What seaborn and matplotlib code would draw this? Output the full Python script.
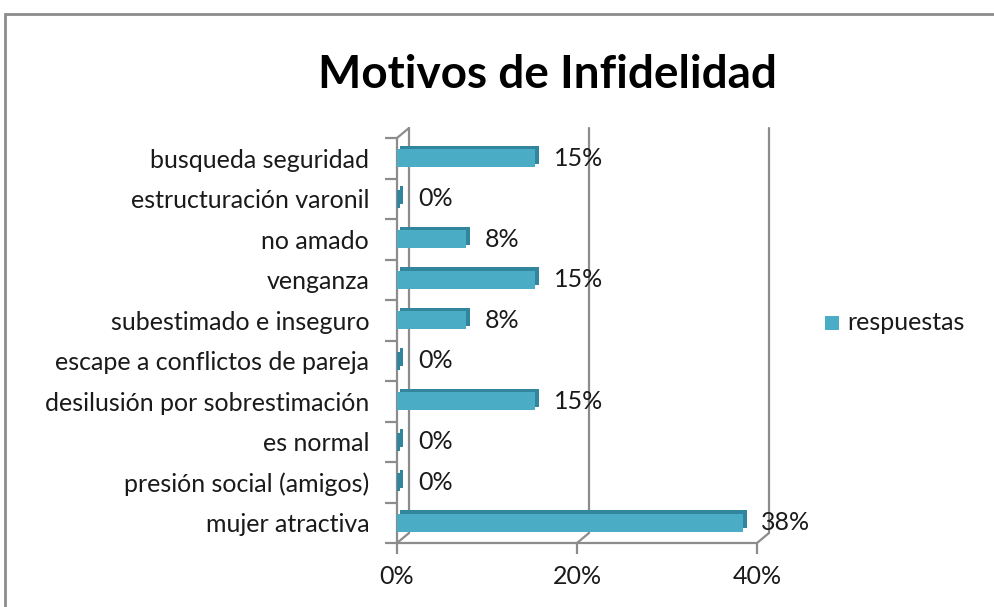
import matplotlib
matplotlib.use("Agg")
import matplotlib.pyplot as plt
import matplotlib.transforms as mtransforms
import matplotlib.patheffects as pe
from matplotlib.patches import Rectangle
import seaborn as sns
import pandas as pd

categories = ["busqueda seguridad", "estructuración varonil", "no amado", "venganza",
              "subestimado e inseguro", "escape a conflictos de pareja",
              "desilusión por sobrestimación", "es normal", "presión social (amigos)",
              "mujer atractiva"]
values = [15.38, 0.0, 7.69, 15.38, 7.69, 0.0, 15.38, 0.0, 0.0, 38.46]
labels = ["15%", "0%", "8%", "15%", "8%", "0%", "15%", "0%", "0%", "38%"]
xticks = [0, 20, 40]
xticklabels = ["0%", "20%", "40%"]
series_name = "respuestas"
title = "Motivos de Infidelidad"

sns.set_theme(style="white")
plt.rcParams["font.family"] = ["Lato", "DejaVu Sans"]

df = pd.DataFrame({"motivo": categories, "pct": values, "serie": series_name})

fig = plt.figure(figsize=(9.95, 6.07), dpi=100)
ax = fig.add_axes([397/995, 1-543/607, (757-397)/995, (543-138)/607])

bar_color = "#4BACC6"
dark = "#31859C"
sns.barplot(data=df, y="motivo", x="pct", hue="serie", order=categories,
            palette=[bar_color], saturation=1, width=0.45, ax=ax, legend=False,
            orient="h", linewidth=0)

for p in ax.patches:
    if p.get_width() < 0.3:
        p.set_width(0.3)
        p.set_facecolor(dark)
    p.set_edgecolor("none")
    p.set_linewidth(0)
    p.set_path_effects([pe.SimplePatchShadow(offset=(2.5, 2.5), shadow_rgbFace=dark, alpha=1.0),
                        pe.Normal()])
    p.set_zorder(3)

ax.set_xlim(0, 40)
ax.set_ylim(9.5, -0.5)
for s in ax.spines.values():
    s.set_visible(False)

grid_c = "#8C8C8C"
lw = 1.6
off = mtransforms.ScaledTranslation(12/100, 10/100, fig.dpi_scale_trans)
back = ax.transData + off

# back plane verticals
for v in xticks:
    ax.plot([v, v], [-0.5, 9.5], color=grid_c, lw=lw, transform=back, clip_on=False, zorder=1)
# diagonal connectors drawn with display coordinates
for v in xticks:
    x0, y0 = ax.transData.transform((v, 9.5))
    ax.plot([x0, x0 + 12], [y0, y0 + 10], color=grid_c, lw=lw, transform=None,
            clip_on=False, zorder=1)
x0, y0 = ax.transData.transform((0, -0.5))
ax.plot([x0, x0 + 12], [y0, y0 + 10], color=grid_c, lw=lw, transform=None, clip_on=False, zorder=1)

# front left wall line and floor line
ax.plot([0, 0], [-0.5, 9.5], color=grid_c, lw=lw, clip_on=False, zorder=2)
ax.plot([0, 40], [9.5, 9.5], color=grid_c, lw=lw, clip_on=False, zorder=2)

fs = 18
# ticks
ax.set_xticks(xticks)
ax.set_xticklabels(xticklabels, fontsize=fs, color="#1a1a1a")
ax.tick_params(axis="x", length=8, width=lw, color=grid_c, direction="out", pad=8, bottom=True)
ax.set_yticks(range(len(categories)))
ax.set_yticklabels(categories, fontsize=fs, color="#1a1a1a")
ax.set_yticks([i - 0.5 for i in range(len(categories) + 1)], minor=True)
ax.tick_params(axis="y", which="major", length=0, pad=20)
ax.tick_params(axis="y", which="minor", length=9, width=lw, color=grid_c, direction="out", left=True)
ax.set_xlabel("")
ax.set_ylabel("")

for i, (v, lab) in enumerate(zip(values, labels)):
    ax.annotate(lab, xy=(max(v, 0.3), i), xytext=(13, 0), textcoords="offset points",
                va="center", ha="left", fontsize=fs, color="#1a1a1a", zorder=5,
                annotation_clip=False)

fig.text(547/995, 1-75/607, title, ha="center", va="center", fontsize=33,
         fontweight="bold", color="black")

# legend
fig.patches.append(Rectangle((825/995, 1-330/607), 14/995, 14/607, transform=fig.transFigure,
                             facecolor=bar_color, edgecolor="none"))
fig.text(847/995, 1-323/607, series_name, ha="left", va="center", fontsize=fs, color="#1a1a1a")

# outer border
fig.patches.append(Rectangle((5/995, -0.1), 1.2, 1.1 - 14/607, transform=fig.transFigure,
                             facecolor="none", edgecolor="#8C8C8C", lw=2, clip_on=False))

fig.savefig("out.png", dpi=100)
